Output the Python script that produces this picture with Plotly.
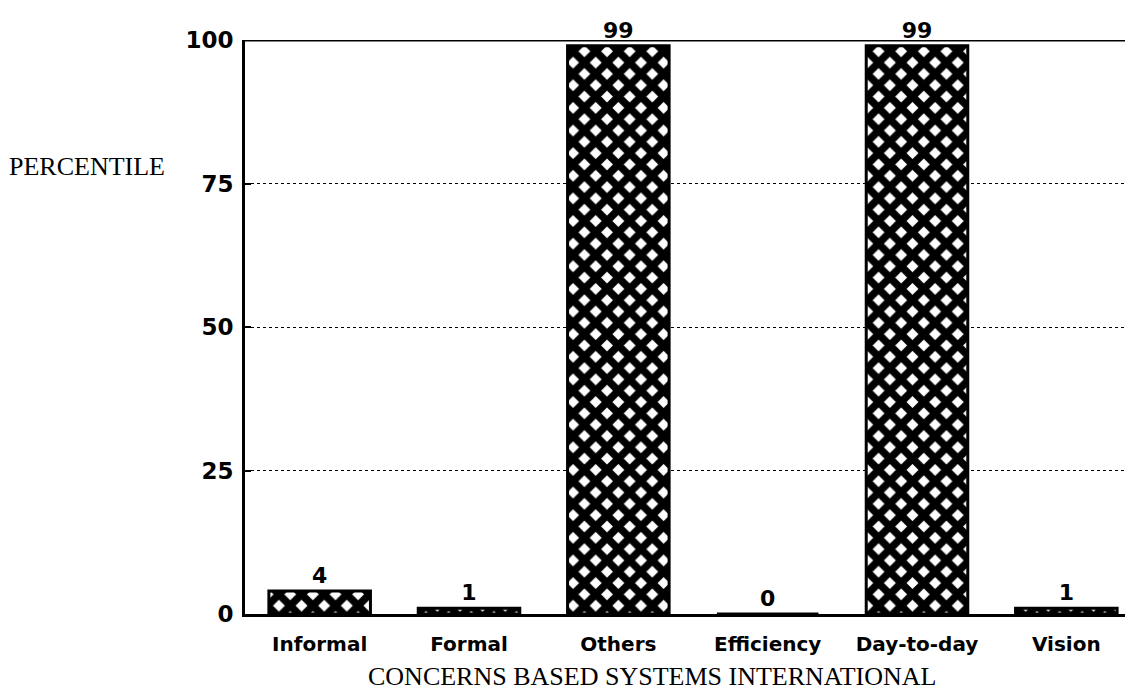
import plotly.graph_objects as go

categories = ["Informal", "Formal", "Others", "Efficiency", "Day-to-day", "Vision"]
tick_labels = ["Informal", "Formal", "Others", "Efficiency", "Day-to-day", "Vision"]
values = [4, 1, 99, 0, 99, 1]
y_ticks = [0, 25, 50, 75, 100]

SANS = "DejaVu Sans, Verdana, sans-serif"
SERIF = "Liberation Serif, Times New Roman, serif"

fig = go.Figure()
fig.add_trace(go.Bar(
    x=categories, y=values,
    width=0.68,
    marker=dict(
        color="white",
        line=dict(color="black", width=3),
        pattern=dict(shape="x", fgcolor="black", bgcolor="white", fgopacity=1,
                     size=16, solidity=0.72, fillmode="replace"),
    ),
    text=[str(v) for v in values],
    textposition="outside",
    cliponaxis=False,
    textfont=dict(family=SANS, size=22, color="black", weight="bold"),
))

fig.update_layout(
    width=1133, height=693,
    margin=dict(l=237, r=0, t=32, b=87),
    plot_bgcolor="white", paper_bgcolor="white",
    showlegend=False,
    xaxis=dict(
        tickmode="array", tickvals=categories, ticktext=tick_labels,
        range=[-0.5, 5.5],
        showline=True, linecolor="black", linewidth=3,
        showgrid=False, ticks="",
        ticklabelstandoff=10,
        tickfont=dict(family=SANS, size=20, color="black", weight="bold"),
    ),
    yaxis=dict(
        range=[0, 100], tickvals=y_ticks,
        showline=True, linecolor="black", linewidth=3,
        showgrid=True, gridcolor="black", griddash="dot", gridwidth=1.3,
        ticks="inside", ticklen=6, tickcolor="black", tickwidth=2,
        ticklabelstandoff=4,
        tickfont=dict(family=SANS, size=23, color="black", weight="bold"),
        zeroline=False,
    ),
    shapes=[dict(type="line", xref="paper", yref="y", x0=0, x1=1, y0=100, y1=100,
                 line=dict(color="black", width=3))],
    annotations=[
        dict(text="PERCENTILE", xref="paper", yref="paper",
             x=-0.0875, y=0.779, xanchor="right", yanchor="middle", showarrow=False,
             font=dict(family=SERIF, size=26, color="black")),
        dict(text="CONCERNS BASED SYSTEMS INTERNATIONAL", xref="paper", yref="paper",
             x=0.4545, y=0, yshift=-62, xanchor="center", yanchor="middle", showarrow=False,
             font=dict(family=SERIF, size=26, color="black")),
    ],
)

fig.write_html("out.html")
